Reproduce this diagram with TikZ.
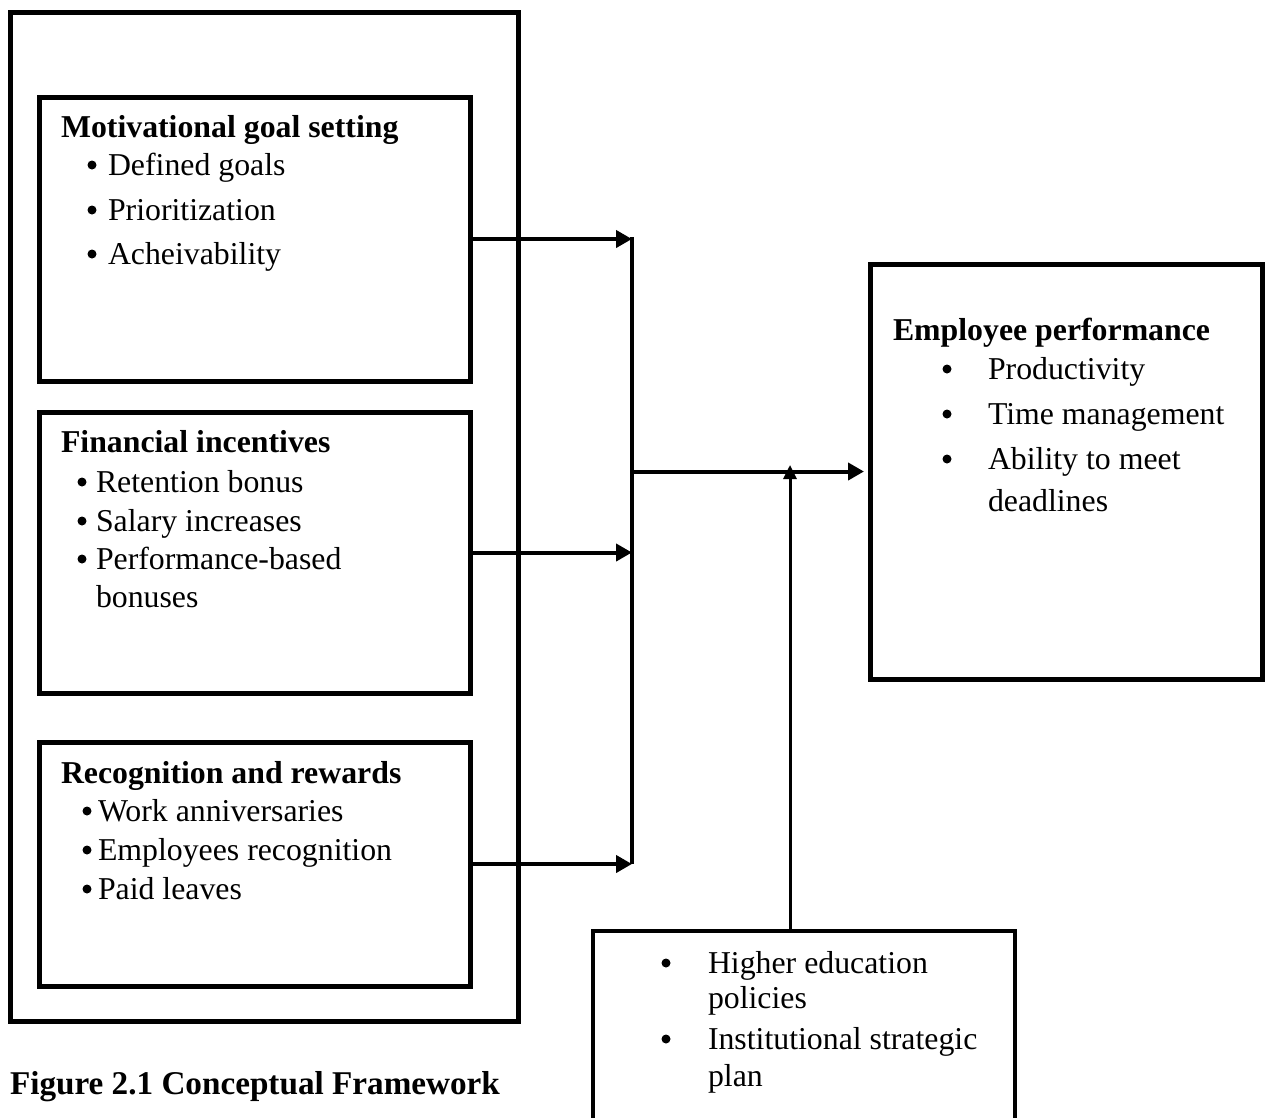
\documentclass[tikz,border=0pt]{standalone}
\usepackage{fontspec}
\setmainfont{Liberation Serif}
\usetikzlibrary{arrows.meta}
\tikzset{
  box/.style={draw, line width=5pt, inner sep=0pt, outer sep=0pt},
  thinbox/.style={draw, line width=3.5pt, inner sep=0pt, outer sep=0pt},
  txt/.style={anchor=base west, inner sep=0pt, outer sep=0pt, font=\fontsize{31.8}{38}\selectfont},
  ttl/.style={txt, font=\fontsize{31.8}{38}\selectfont\bfseries},
  captiontxt/.style={txt, font=\fontsize{33.2}{40}\selectfont\bfseries},
  dot/.style={circle, fill=black, inner sep=0pt, outer sep=0pt, minimum size=9pt},
  conn/.style={line width=4pt, -{Triangle[length=16pt,width=17pt]}},
  line/.style={line width=4pt},
  upconn/.style={line width=3pt, -{Triangle[length=14pt,width=13pt]}},
}
\begin{document}
\begin{tikzpicture}[x=1pt,y=-1pt]
\useasboundingbox (0,0) rectangle (1271,1117);
% boxes
\node[box, minimum width=508pt, minimum height=1009pt] (outer) at (264,516.5) {};
\node[box, minimum width=431pt, minimum height=284pt] (b1) at (254.5,239) {};
\node[box, minimum width=431pt, minimum height=281pt] (b2) at (254.5,552.5) {};
\node[box, minimum width=431pt, minimum height=244pt] (b3) at (254.5,864) {};
\node[box, minimum width=392pt, minimum height=415pt] (ep) at (1066,471.5) {};
\node[thinbox, minimum width=422pt, minimum height=209pt] (ctx) at (804,1035.5) {};
% box 1 text
\node[ttl] (t1) at (61,137) {Motivational goal setting};
\node[dot] (d1a) at (92,165) {};
\node[txt] (t1a) at (108,175) {Defined goals};
\node[dot] (d1b) at (92,210) {};
\node[txt] (t1b) at (108,220) {Prioritization};
\node[dot] (d1c) at (92,254) {};
\node[txt] (t1c) at (108,264) {Acheivability};
% box 2 text
\node[ttl] (t2) at (61,452) {Financial incentives};
\node[dot] (d2a) at (82,482) {};
\node[txt] (t2a) at (96,492) {Retention bonus};
\node[dot] (d2b) at (82,521) {};
\node[txt] (t2b) at (96,531) {Salary increases};
\node[dot] (d2c) at (82,559) {};
\node[txt] (t2c) at (96,569) {Performance-based};
\node[txt] (t2d) at (96,607) {bonuses};
% box 3 text
\node[ttl] (t3) at (61,783) {Recognition and rewards};
\node[dot] (d3a) at (87,811) {};
\node[txt] (t3a) at (98,821) {Work anniversaries};
\node[dot] (d3b) at (87,850) {};
\node[txt] (t3b) at (98,860) {Employees recognition};
\node[dot] (d3c) at (87,889) {};
\node[txt] (t3c) at (98,899) {Paid leaves};
% employee performance text
\node[ttl] (t4) at (893,340) {Employee performance};
\node[dot] (d4a) at (947,369) {};
\node[txt] (t4b) at (988,379) {Productivity};
\node[dot] (d4c) at (947,414) {};
\node[txt] (t4d) at (988,424) {Time management};
\node[dot] (d4e) at (947,459) {};
\node[txt] (t4f) at (988,469) {Ability to meet};
\node[txt] (t4g) at (988,511) {deadlines};
% context box text
\node[dot] (d5a) at (666,963) {};
\node[txt] (t5b) at (708,973) {Higher education};
\node[txt] (t5c) at (708,1008) {policies};
\node[dot] (d5d) at (666,1039) {};
\node[txt] (t5e) at (708,1049) {Institutional strategic};
\node[txt] (t5f) at (708,1086) {plan};
% caption
\node[captiontxt] (capt) at (10,1094) {Figure 2.1 Conceptual Framework};
% connectors
\coordinate (cTop) at (632,239);
\coordinate (cMid) at (632,471.5);
\coordinate (cBot) at (632,862);
\coordinate (cUp) at (790,465);
\draw[line] ([yshift=2pt]cTop) -- ([yshift=-2pt]cBot);
\draw[conn] (b1.east) -- (b1.east -| cTop);
\draw[conn] (b2.east) -- (b2.east -| cTop);
\draw[conn] (b3.east) -- (b3.east -| cTop);
\draw[conn, shorten >=6pt] (cMid) -- (ep.west);
\draw[upconn] (ctx.north -| cUp) -- (cUp);
\end{tikzpicture}
\end{document}
